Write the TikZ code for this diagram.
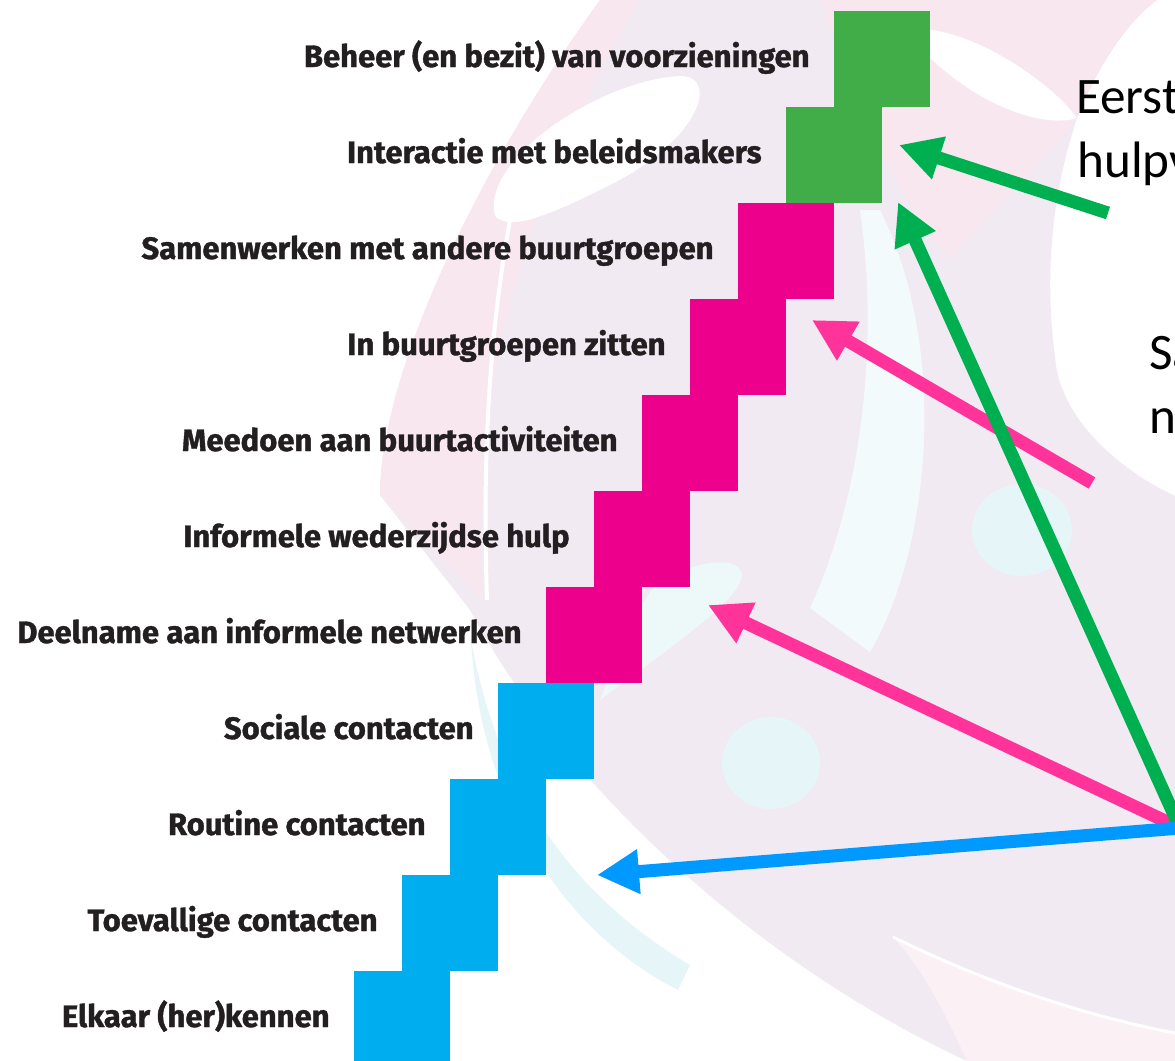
\documentclass[tikz,border=0pt]{standalone}
\usepackage{fontspec}
\setmainfont{Carlito}
\newfontfamily\lblfont{Fira Sans}[BoldFeatures={FakeBold=1.2}]
\usetikzlibrary{arrows.meta}
\definecolor{sqgreen}{HTML}{41AD49}
\definecolor{sqmag}{HTML}{EC008C}
\definecolor{sqcyan}{HTML}{00AEEF}
\definecolor{argreen}{HTML}{00B050}
\definecolor{arpink}{HTML}{FF3399}
\definecolor{arblue}{HTML}{0099FF}
\definecolor{lbl}{HTML}{231F20}
\definecolor{bglav}{HTML}{F1EAF2}
\definecolor{bgpink}{HTML}{F8E7EF}
\definecolor{bgcyan}{HTML}{E6F5F7}
\tikzset{
  sq/.style={minimum size=48pt, inner sep=0pt, outer sep=0pt, draw=none},
  lab/.style={anchor=base east, inner sep=0pt, text=lbl, font=\lblfont\bfseries\fontsize{15.5}{18}\selectfont},
  side/.style={anchor=base west, inner sep=0pt, text=black, font=\fontsize{25.6}{30}\selectfont},
  arr/.style={line width=6.5pt, -{Triangle[length=21pt,width=21pt]}},
}
\begin{document}
\begin{tikzpicture}[x=0.5pt,y=-0.5pt]
\useasboundingbox (0,0) rectangle (1175,1061);
\clip (0,0) rectangle (1175,1061);
\fill[white] (0,0) rectangle (1175,1061);
% background watermark
\fill[bglav] (600,0) .. controls (470,180) and (380,380) .. (380,495)
  -- (470,610) .. controls (560,780) and (750,960) .. (967,1061)
  -- (1175,1061) -- (1175,496)
  .. controls (1120,470) and (1060,420) .. (1055,357)
  .. controls (1045,280) and (1050,200) .. (1077,118)
  .. controls (1100,60) and (1130,20) .. (1157,0) -- cycle;
\fill[bgpink] (600,0) .. controls (470,180) and (380,380) .. (380,495)
  -- (482,600) .. controls (470,400) and (520,200) .. (640,0) -- cycle;
\fill[bgpink] (820,0) .. controls (860,120) and (900,200) .. (950,260)
  .. controls (1000,200) and (1040,170) .. (1077,118)
  .. controls (1100,60) and (1130,20) .. (1157,0) -- cycle;
\fill[bgpink!60] (893,937) .. controls (980,980) and (1080,1015) .. (1175,1033)
  -- (1175,1061) -- (967,1061) .. controls (940,1000) and (915,960) .. (893,937) -- cycle;
\draw[white, line width=1.5pt] (893,937) .. controls (980,980) and (1080,1015) .. (1175,1033);
\draw[white, line width=2pt] (510,220) .. controls (490,330) and (482,450) .. (487,600);
\fill[white] (495,216) .. controls (480,160) and (600,80) .. (680,76)
  .. controls (720,76) and (700,140) .. (610,185) .. controls (550,215) and (510,232) .. (495,216) -- cycle;
\fill[white] (905,30) .. controls (960,20) and (1050,80) .. (1077,118)
  .. controls (1040,130) and (960,100) .. (905,30) -- cycle;
\fill[bgcyan!50] (880,210) .. controls (950,350) and (930,550) .. (870,652)
  -- (810,608) .. controls (860,500) and (880,350) .. (860,210) -- cycle;
\fill[bgcyan!70] (600,700) .. controls (680,640) and (740,600) .. (742,575)
  .. controls (740,555) and (700,560) .. (660,580) .. controls (640,600) and (620,650) .. (600,700) -- cycle;
\fill[bgcyan] (471,640) .. controls (500,800) and (580,900) .. (690,965)
  -- (678,990) .. controls (560,930) and (480,800) .. (471,640) -- cycle;
\fill[bgcyan] (1022,530) ellipse [x radius=25pt, y radius=23pt];
\fill[bgcyan] (771,763) ellipse [x radius=24.5pt, y radius=23pt];
% staircase
\node[sq, fill=sqgreen] (s1) at (882,59) {};
\node[sq, fill=sqgreen] (s2) at (834,155) {};
\node[sq, fill=sqmag] (s3) at (786,251) {};
\node[sq, fill=sqmag] (s4) at (738,347) {};
\node[sq, fill=sqmag] (s5) at (690,443) {};
\node[sq, fill=sqmag] (s6) at (642,539) {};
\node[sq, fill=sqmag] (s7) at (594,635) {};
\node[sq, fill=sqcyan] (s8) at (546,731) {};
\node[sq, fill=sqcyan] (s9) at (498,827) {};
\node[sq, fill=sqcyan] (s10) at (450,923) {};
\node[sq, fill=sqcyan] (s11) at (402,1019) {};
% labels
\node[lab] (l1) at (810,67) {Beheer (en bezit) van voorzieningen};
\node[lab] (l2) at (762,163) {Interactie met beleidsmakers};
\node[lab] (l3) at (714,259) {Samenwerken met andere buurtgroepen};
\node[lab] (l4) at (666,355) {In buurtgroepen zitten};
\node[lab] (l5) at (618,451) {Meedoen aan buurtactiviteiten};
\node[lab] (l6) at (570,547) {Informele wederzijdse hulp};
\node[lab] (l7) at (522,643) {Deelname aan informele netwerken};
\node[lab] (l8) at (474,739) {Sociale contacten};
\node[lab] (l9) at (426,835) {Routine contacten};
\node[lab] (l10) at (378,931) {Toevallige contacten};
\node[lab] (l11) at (330,1027) {Elkaar (her)kennen};
% side texts
\node[side] (t1) at (1076,113) {Eerst};
\node[side] (t2) at (1077,177) {hulpv};
\node[side] (t3) at (1149,369) {Sa};
\node[side] (t4) at (1149,433) {n};
% arrows
\coordinate (O) at (1180,828);
\coordinate (g1s) at (1108,213);
\coordinate (g1t) at (899,145);
\coordinate (g2t) at (898,202);
\coordinate (p1s) at (1092,483);
\coordinate (p1t) at (812,320);
\coordinate (p2t) at (708,605);
\coordinate (bt) at (597,875);
\draw[arr, arpink] (p1s) -- (p1t);
\draw[arr, arpink] (O) -- (p2t);
\draw[arr, argreen] (g1s) -- (g1t);
\draw[arr, argreen] (O) -- (g2t);
\draw[arr, arblue] (O) -- (bt);
\end{tikzpicture}
\end{document}
